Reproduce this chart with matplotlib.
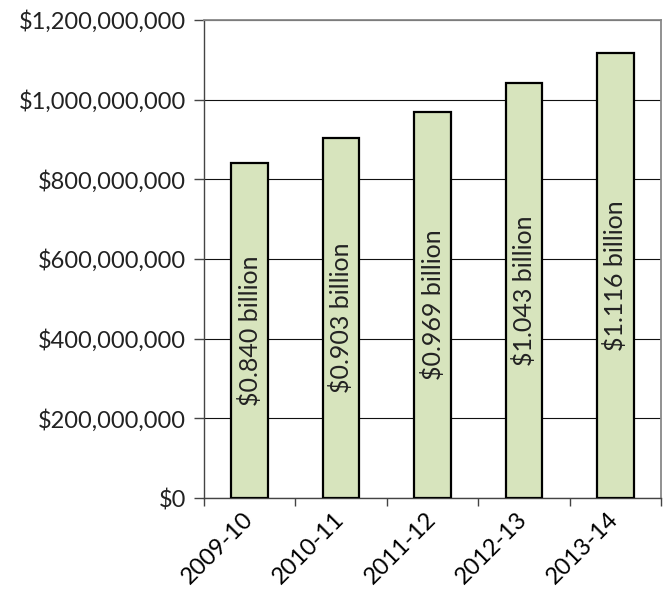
import numpy as np
import matplotlib.pyplot as plt
import matplotlib.ticker as mticker

# data
years = ['2009-10', '2010-11', '2011-12', '2012-13', '2013-14']
funding = [0.840e9, 0.903e9, 0.969e9, 1.043e9, 1.116e9]
labels = ['$0.840 billion', '$0.903 billion', '$0.969 billion',
          '$1.043 billion', '$1.116 billion']

plt.rcParams['font.family'] = ['Lato', 'DejaVu Sans']

fig = plt.figure(figsize=(6.68, 5.91), dpi=100)
ax = fig.add_axes([204 / 668, 1 - 498 / 591, 457 / 668, 478 / 591])

x = np.arange(len(years))
bars = ax.bar(x, funding, width=0.4, color='#D7E4BD', edgecolor='black',
              linewidth=1.6, zorder=3)

# labels inside the bars
for xi, val, lab in zip(x, funding, labels):
    ax.text(xi, val / 2, lab, rotation=90, ha='center', va='center',
            fontsize=18, color='#222222', zorder=4)

# axes range and ticks
ax.set_xlim(-0.5, len(years) - 0.5)
ax.set_ylim(0, 1.2e9)
ax.yaxis.set_major_locator(mticker.MultipleLocator(2e8))
ax.yaxis.set_major_formatter(mticker.FuncFormatter(lambda v, p: '${:,.0f}'.format(v)))
ax.set_xticks(x)
ax.set_xticklabels(years, rotation=45, ha='right', va='center',
                   rotation_mode='anchor')
ax.set_xticks(np.arange(len(years) + 1) - 0.5, minor=True)
ax.tick_params(axis='x', which='major', length=0, labelsize=17, pad=13)
ax.tick_params(axis='x', which='minor', length=6, width=1, color='#444444')
ax.tick_params(axis='y', length=7, width=1, color='#444444', labelsize=17,
               labelcolor='#222222', pad=6)

# grid and frame
ax.yaxis.grid(True, color='#111111', linewidth=0.8, zorder=0)
ax.set_axisbelow(True)
for side in ['top', 'right']:
    ax.spines[side].set_color('#888888')
    ax.spines[side].set_linewidth(1.3)
for side in ['left', 'bottom']:
    ax.spines[side].set_color('#444444')
    ax.spines[side].set_linewidth(1.0)

plt.savefig('out.png', dpi=100)
